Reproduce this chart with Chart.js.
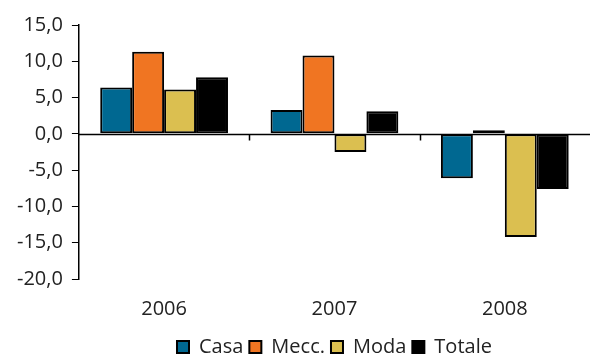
<!DOCTYPE html>
<html>
<head>
<meta charset="UTF-8">
<script src="https://cdn.jsdelivr.net/npm/chart.js"></script>
<style>
  html, body { margin: 0; padding: 0; background: #fff; }
  .wrap { width: 590px; height: 354px; position: relative; }
</style>
</head>
<body>
<div class="wrap"><canvas id="grafico"></canvas></div>
<script>
const anni = ["2006", "2007", "2008"];
const casa = [6.4, 3.3, -6.1];
const mecc = [11.3, 10.8, 0.5];
const moda = [6.1, -2.5, -14.2];
const totale = [7.8, 3.1, -7.6];

const yMin = -20, yMax = 15, yStep = 5;

// linea dello zero + tacche tra le categorie
const lineaZero = {
  id: "lineaZero",
  afterDatasetsDraw(chart) {
    const { ctx, chartArea, scales } = chart;
    const y0 = Math.round(scales.y.getPixelForValue(0)) + 0.5;
    ctx.save();
    ctx.strokeStyle = "#000";
    ctx.lineWidth = 1.5;
    ctx.beginPath();
    ctx.moveTo(chartArea.left, y0);
    ctx.lineTo(chartArea.right, y0);
    const n = scales.x.ticks.length;
    for (let i = 0; i < n - 1; i++) {
      const xb = Math.round((scales.x.getPixelForTick(i) + scales.x.getPixelForTick(i + 1)) / 2) + 0.5;
      ctx.moveTo(xb, y0);
      ctx.lineTo(xb, y0 + 6);
    }
    ctx.stroke();
    ctx.restore();
  }
};

const fontBase = { family: "'Open Sans', sans-serif", size: 20 };

new Chart(document.getElementById("grafico"), {
  type: "bar",
  data: {
    labels: anni,
    datasets: [
      { label: "Casa", data: casa, backgroundColor: "#006891" },
      { label: "Mecc.", data: mecc, backgroundColor: "#f07522" },
      { label: "Moda", data: moda, backgroundColor: "#dbbf50" },
      { label: "Totale", data: totale, backgroundColor: "#000000" }
    ].map(d => Object.assign(d, { borderColor: "#000", borderWidth: 2, borderSkipped: false }))
  },
  options: {
    responsive: true,
    maintainAspectRatio: false,
    animation: false,
    layout: { padding: { top: 25, right: 0, left: 8, bottom: -13 } },
    datasets: { bar: { categoryPercentage: 0.75, barPercentage: 1.0 } },
    plugins: {
      tooltip: { enabled: false },
      legend: {
        position: "bottom",
        fullSize: false,
        labels: {
          color: "#222",
          font: fontBase,
          boxWidth: 12,
          boxHeight: 12,
          padding: 6,
          useBorderRadius: false
        }
      }
    },
    scales: {
      x: {
        grid: { display: false },
        border: { display: false },
        ticks: { color: "#222", font: fontBase, padding: 10 }
      },
      y: {
        min: yMin,
        max: yMax,
        grid: { drawOnChartArea: false, drawTicks: true, tickLength: 7, color: "#000" },
        border: { display: true, color: "#000", width: 1.5 },
        ticks: {
          stepSize: yStep,
          color: "#222",
          font: fontBase,
          padding: 9,
          callback: v => v.toFixed(1).replace(".", ",")
        }
      }
    }
  },
  plugins: [lineaZero]
});
</script>
</body>
</html>
